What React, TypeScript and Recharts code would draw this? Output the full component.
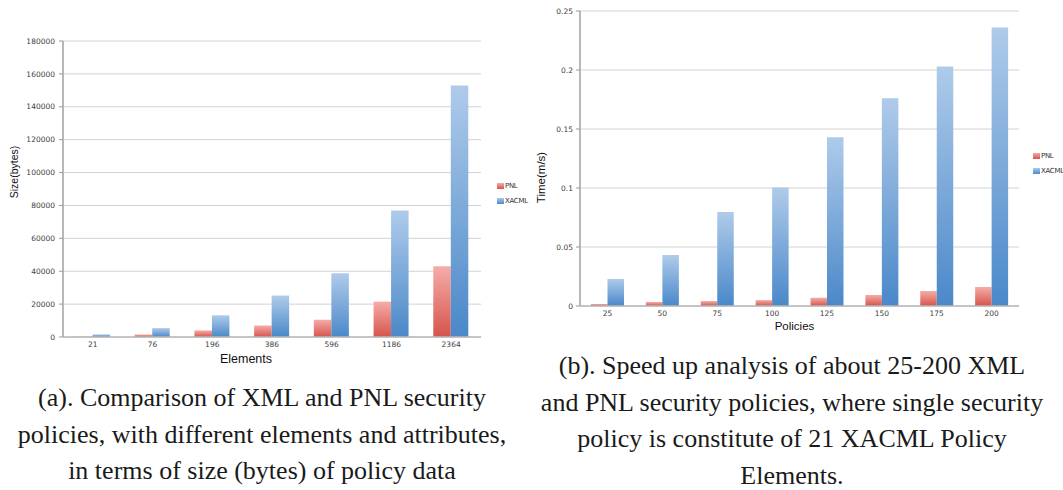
import { BarChart, Bar, XAxis, YAxis, CartesianGrid } from 'recharts'

const elements = ['21', '76', '196', '386', '596', '1186', '2364']
const sizePnl = [300, 1500, 4000, 7000, 10500, 21500, 43000]
const sizeXacml = [1600, 5400, 13200, 25200, 38700, 77000, 153000]
const sizeTicks = [0, 20000, 40000, 60000, 80000, 100000, 120000, 140000, 160000, 180000]

const policies = ['25', '50', '75', '100', '125', '150', '175', '200']
const timePnl = [0.0017, 0.0034, 0.0042, 0.005, 0.007, 0.0093, 0.0127, 0.0161]
const timeXacml = [0.0229, 0.0432, 0.0797, 0.1005, 0.143, 0.176, 0.203, 0.236]
const timeTicks = [0, 0.05, 0.1, 0.15, 0.2, 0.25]

const seriesNames = ['PNL', 'XACML']

const captionA = [
  '(a). Comparison of XML and PNL security',
  'policies, with different elements and attributes,',
  'in terms of size (bytes) of policy data',
]
const captionB = [
  '(b). Speed up analysis of about 25-200 XML',
  'and PNL security policies, where single security',
  'policy is constitute of 21 XACML Policy',
  'Elements.',
]

const sizeData = elements.map((e, i) => ({ name: e, PNL: sizePnl[i], XACML: sizeXacml[i] }))
const timeData = policies.map((p, i) => ({ name: p, PNL: timePnl[i], XACML: timeXacml[i] }))

const tickStyle = { fontSize: 7.5, fill: '#404040', fontFamily: 'DejaVu Sans, sans-serif' }
const axisGray = '#b8b8b8'
const swatches = ['linear-gradient(#f5aaa6, #d5554d)', 'linear-gradient(#aecae9, #4a89ca)']

function LegendBox({ left, top }: { left: number; top: number }) {
  return (
    <div style={{ position: 'absolute', left, top }}>
      {seriesNames.map((s, i) => (
        <div key={s} style={{ display: 'flex', alignItems: 'center', height: 15 }}>
          <div style={{ width: 7, height: 6, background: swatches[i], marginRight: 1 }} />
          <span style={{ fontSize: 7, letterSpacing: -0.3, color: '#333', fontFamily: 'DejaVu Sans, sans-serif' }}>{s}</span>
        </div>
      ))}
    </div>
  )
}

function Grads({ id }: { id: string }) {
  return (
    <defs>
      <linearGradient id={'pnl' + id} x1="0" y1="0" x2="0" y2="1">
        <stop offset="0%" stopColor="#f6aca8" />
        <stop offset="100%" stopColor="#d5544c" />
      </linearGradient>
      <linearGradient id={'xac' + id} x1="0" y1="0" x2="0" y2="1">
        <stop offset="0%" stopColor="#afcbea" />
        <stop offset="100%" stopColor="#4a88c9" />
      </linearGradient>
    </defs>
  )
}

const captionStyle = {
  position: 'absolute' as const,
  textAlign: 'center' as const,
  fontFamily: '"Liberation Serif", "DejaVu Serif", serif',
  fontSize: 26,
  lineHeight: '36.5px',
  color: '#1a1a1a',
  whiteSpace: 'nowrap' as const,
}

export default function App() {
  return (
    <div style={{ position: 'absolute', left: 0, top: 0, width: 1063, height: 490, background: '#fff', overflow: 'hidden' }}>
      <div style={{ position: 'absolute', left: 0, top: 0 }}>
        <BarChart width={560} height={370} data={sizeData} margin={{ top: 41, right: 79, bottom: 7, left: 0 }} barGap={0} barSize={17.5}>
          <Grads id="a" />
          <CartesianGrid vertical={false} stroke="#d2d2d2" />
          <XAxis dataKey="name" height={26} tick={tickStyle} tickLine={false} tickSize={2} tickMargin={3}
            axisLine={{ stroke: axisGray, strokeWidth: 1.5 }}
            label={{ value: 'Elements', position: 'insideBottom', offset: 0, dx: -26, style: { fontSize: 12.5, fill: '#111', fontFamily: 'Liberation Sans, sans-serif' } }} />
          <YAxis width={63} domain={[0, 180000]} ticks={sizeTicks} interval={0} tick={tickStyle} tickSize={4} tickMargin={4}
            tickLine={{ stroke: '#999' }} axisLine={{ stroke: axisGray, strokeWidth: 2 }}
            label={{ value: 'Size(bytes)', angle: -90, position: 'insideLeft', offset: 14, dy: -17, style: { textAnchor: 'middle', fontSize: 10.5, fill: '#111', fontFamily: 'Liberation Sans, sans-serif' } }} />
          <Bar dataKey="PNL" fill="url(#pnla)" isAnimationActive={false} />
          <Bar dataKey="XACML" fill="url(#xaca)" isAnimationActive={false} />
        </BarChart>
      </div>
      <LegendBox left={497} top={178} />
      <div style={{ position: 'absolute', left: 520, top: 0 }}>
        <BarChart width={543} height={340} data={timeData} margin={{ top: 11, right: 44, bottom: 10, left: 0 }} barGap={0} barSize={16.5}>
          <Grads id="b" />
          <CartesianGrid vertical={false} stroke="#d2d2d2" />
          <XAxis dataKey="name" height={24} tick={tickStyle} tickLine={false} tickSize={2} tickMargin={3}
            axisLine={{ stroke: axisGray, strokeWidth: 1.5 }}
            label={{ value: 'Policies', position: 'insideBottom', offset: 0, dx: -5, style: { fontSize: 11.5, fill: '#111', fontFamily: 'Liberation Sans, sans-serif' } }} />
          <YAxis width={60} domain={[0, 0.25]} ticks={timeTicks} interval={0} tick={tickStyle} tickSize={4} tickMargin={3}
            tickLine={{ stroke: '#999' }} axisLine={{ stroke: axisGray, strokeWidth: 2 }}
            label={{ value: 'Time(m/s)', angle: -90, position: 'insideLeft', offset: 21, dy: 19, style: { textAnchor: 'middle', fontSize: 11.5, fill: '#111', fontFamily: 'Liberation Sans, sans-serif' } }} />
          <Bar dataKey="PNL" fill="url(#pnlb)" isAnimationActive={false} />
          <Bar dataKey="XACML" fill="url(#xacb)" isAnimationActive={false} />
        </BarChart>
      </div>
      <LegendBox left={1033} top={148} />
      <div style={{ ...captionStyle, left: 2, top: 380, width: 520 }}>
        {captionA.map(l => <div key={l}>{l}</div>)}
      </div>
      <div style={{ ...captionStyle, left: 527, top: 348, width: 530 }}>
        {captionB.map(l => <div key={l}>{l}</div>)}
      </div>
    </div>
  )
}
